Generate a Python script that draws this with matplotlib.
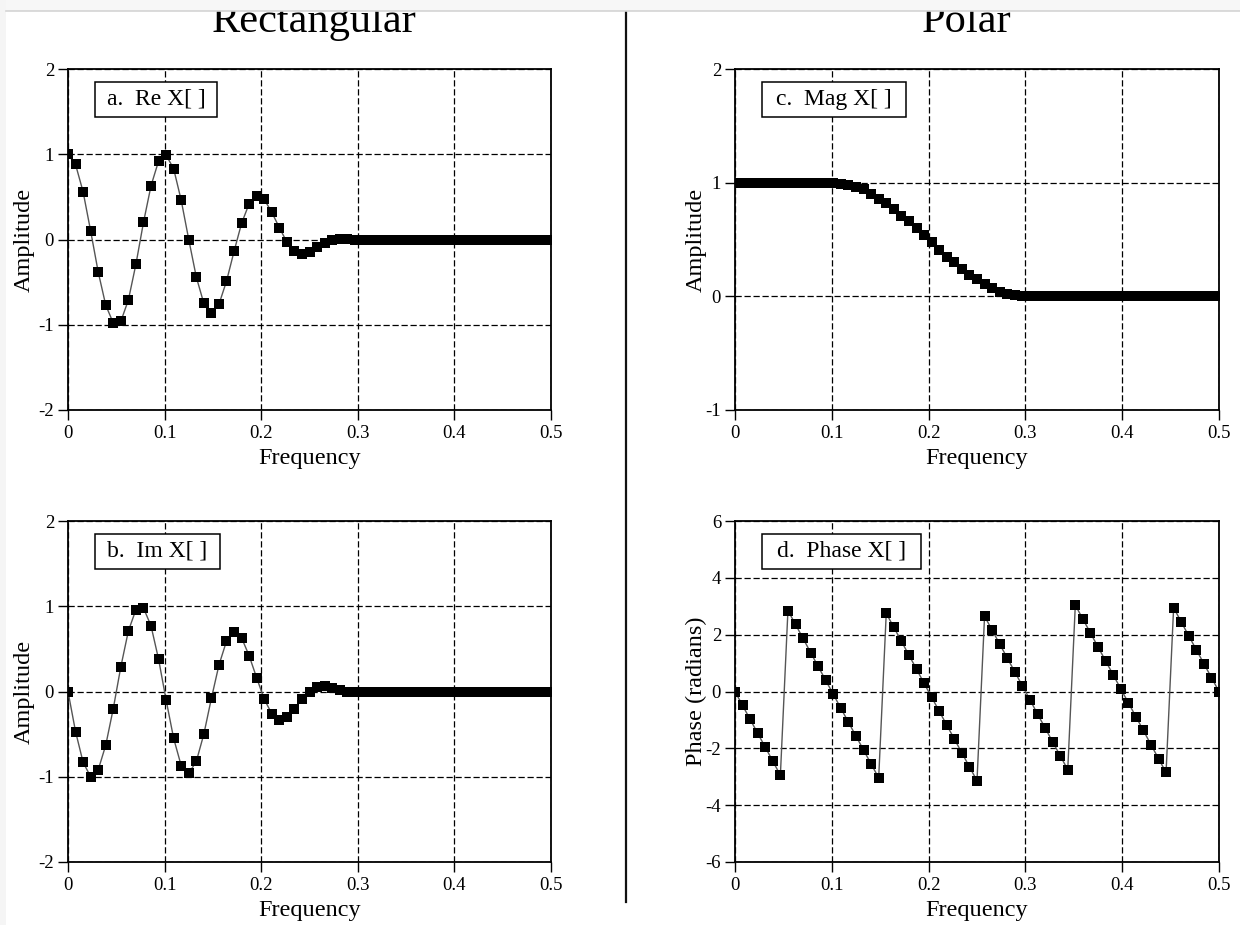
import numpy as np
import matplotlib
matplotlib.use("Agg")
import matplotlib.pyplot as plt
from matplotlib.patches import Rectangle
from matplotlib.lines import Line2D

plt.rcParams['font.family'] = ['Liberation Serif', 'DejaVu Serif']

# 65 evenly spaced frequency samples from 0 to 0.5
freq = np.linspace(0.0, 0.5, 65)

re_x = [1.00, 0.88, 0.56, 0.10, -0.38, -0.77, -0.98, -0.96, -0.71, -0.29,
        0.20, 0.63, 0.92, 0.99, 0.83, 0.46, 0.00, -0.44, -0.75, -0.86,
        -0.76, -0.49, -0.14, 0.19, 0.42, 0.51, 0.47, 0.32, 0.14, -0.03,
        -0.14, -0.17, -0.15, -0.09, -0.04, 0.00, 0.01, 0.01, 0.00] + [0.0] * 26

im_x = [0.00, -0.47, -0.83, -1.00, -0.92, -0.63, -0.20, 0.29, 0.71, 0.96,
        0.98, 0.77, 0.38, -0.10, -0.55, -0.87, -0.96, -0.82, -0.50, -0.08,
        0.31, 0.59, 0.70, 0.63, 0.42, 0.16, -0.09, -0.26, -0.33, -0.30,
        -0.20, -0.09, 0.00, 0.05, 0.06, 0.04, 0.02, 0.00, 0.00] + [0.0] * 26

mag_x = [1.00] * 13 + [1.00, 0.99, 0.98, 0.96, 0.94, 0.90, 0.86, 0.82, 0.77,
                       0.71, 0.66, 0.60, 0.54, 0.48, 0.41, 0.35, 0.30, 0.24,
                       0.19, 0.15, 0.11, 0.07, 0.04, 0.02, 0.01, 0.00] + [0.0] * 26

phase_x = [0.00, -0.49, -0.98, -1.47, -1.96, -2.45, -2.95,
           2.85, 2.36, 1.87, 1.37, 0.88, 0.39, -0.10, -0.59, -1.08, -1.57, -2.06, -2.55, -3.04,
           2.75, 2.26, 1.77, 1.28, 0.79, 0.29, -0.20, -0.69, -1.18, -1.67, -2.16, -2.65, -3.14,
           2.65, 2.16, 1.67, 1.18, 0.69, 0.20, -0.29, -0.79, -1.28, -1.77, -2.26, -2.75,
           3.04, 2.55, 2.06, 1.57, 1.08, 0.59, 0.10, -0.39, -0.88, -1.37, -1.87, -2.36, -2.85,
           2.95, 2.45, 1.96, 1.47, 0.98, 0.49, 0.00]

x_ticks = [0, 0.1, 0.2, 0.3, 0.4, 0.5]
x_tick_labels = ['0', '0.1', '0.2', '0.3', '0.4', '0.5']

W, H = 1240, 925
fig = plt.figure(figsize=(W / 100, H / 100), dpi=100)


def px_axes(left, top, right, bottom):
    return fig.add_axes([left / W, 1 - bottom / H, (right - left) / W, (bottom - top) / H])


def style_axes(ax, ylim, yticks, ylabel, label_x, tag, box_w):
    ax.set_xlim(0, 0.5)
    ax.set_ylim(*ylim)
    ax.set_xticks(x_ticks)
    ax.set_xticklabels(x_tick_labels)
    ax.set_yticks(yticks)
    ax.set_yticklabels([str(v) for v in yticks])
    ax.tick_params(direction='out', length=7, width=1.0, pad=3, labelsize=13.5,
                   colors='black', top=False, right=False)
    ax.tick_params(axis='x', pad=4)
    for s in ax.spines.values():
        s.set_linewidth(1.3)
        s.set_color('black')
    ax.set_axisbelow(True)
    ax.grid(True, color='black', linestyle=(0, (5, 2.2)), linewidth=0.9)
    ax.set_xlabel('Frequency', fontsize=17.5)
    ax.set_ylabel(ylabel, fontsize=17.5)
    ax.xaxis.set_label_coords(0.5, -0.112)
    ax.yaxis.set_label_coords(label_x, 0.5)
    # caption box in the upper-left corner
    bbox = ax.get_position()
    ax_w = bbox.width * W
    ax_h = bbox.height * H
    bx0 = 27 / ax_w
    bw = box_w / ax_w
    bh = 35 / ax_h
    by0 = 1 - 13 / ax_h - bh
    ax.add_patch(Rectangle((bx0, by0), bw, bh, transform=ax.transAxes,
                           facecolor='white', edgecolor='black', linewidth=1.1,
                           zorder=5, clip_on=False))
    ax.text(bx0 + bw / 2, by0 + bh / 2, tag, transform=ax.transAxes,
            ha='center', va='center', fontsize=17, zorder=6)


def plot_series(ax, y):
    ax.plot(freq, y, color='#555555', linewidth=1.0, zorder=3)
    ax.plot(freq, y, linestyle='none', marker='s', markersize=7.0,
            color='black', markeredgewidth=0, zorder=4)


ax_a = px_axes(68, 69, 551, 410)
plot_series(ax_a, re_x)
style_axes(ax_a, (-2, 2), [-2, -1, 0, 1, 2], 'Amplitude', -0.068, 'a.  Re X[ ]', 122)

ax_b = px_axes(68, 521, 551, 862)
plot_series(ax_b, im_x)
style_axes(ax_b, (-2, 2), [-2, -1, 0, 1, 2], 'Amplitude', -0.068, 'b.  Im X[ ]', 125)

ax_c = px_axes(735, 69, 1219, 410)
plot_series(ax_c, mag_x)
style_axes(ax_c, (-1, 2), [-1, 0, 1, 2], 'Amplitude', -0.058, 'c.  Mag X[ ]', 144)

ax_d = px_axes(735, 521, 1219, 862)
plot_series(ax_d, phase_x)
style_axes(ax_d, (-6, 6), [-6, -4, -2, 0, 2, 4, 6], 'Phase (radians)', -0.058,
           'd.  Phase X[ ]', 159)

# column headings
fig.text(314 / W, 1 - 32 / H, 'Rectangular', ha='center', va='baseline', fontsize=30.5)
fig.text(967 / W, 1 - 32 / H, 'Polar', ha='center', va='baseline', fontsize=30.5)

# vertical divider between the two columns
fig.add_artist(Line2D([626 / W, 626 / W], [1 - 11 / H, 1 - 902 / H],
                      transform=fig.transFigure, color='#111111', linewidth=1.6))

# page edge band at the top and left
fig.add_artist(Rectangle((0, 1 - 11 / H), 1, 11 / H, transform=fig.transFigure,
                         facecolor='#f7f7f7', edgecolor='none', zorder=20))
fig.add_artist(Line2D([6 / W, 1], [1 - 11 / H, 1 - 11 / H], transform=fig.transFigure,
                      color='#d4d4d4', linewidth=1.2, zorder=21))
fig.add_artist(Rectangle((0, 0), 6 / W, 1, transform=fig.transFigure,
                         facecolor='#f5f5f5', edgecolor='none', zorder=20))

fig.savefig('out.png', dpi=100, facecolor='white')
